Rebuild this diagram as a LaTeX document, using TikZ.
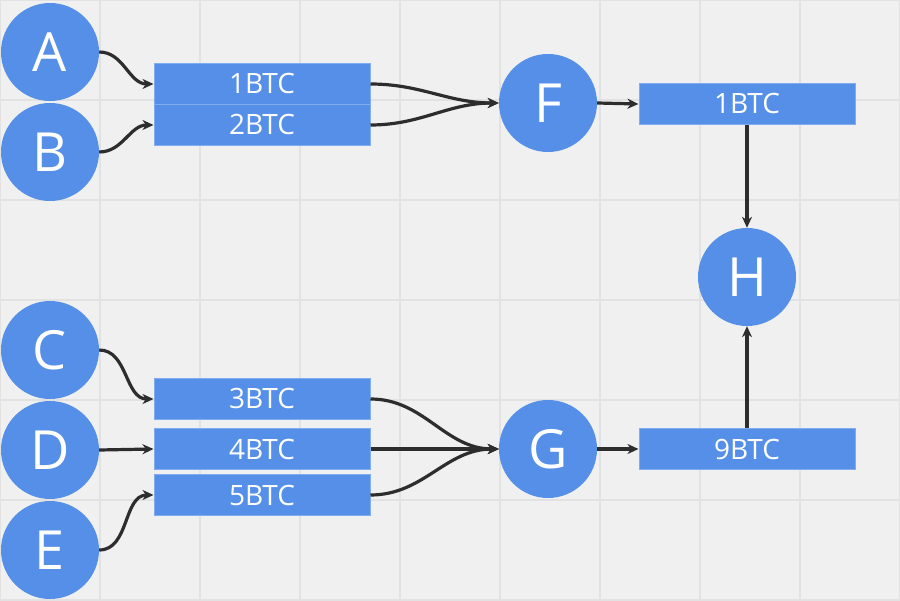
\documentclass[tikz,border=0pt]{standalone}
\usepackage{fontspec}
\setmainfont{Open Sans}
\usepackage{tikz}
\usetikzlibrary{
    arrows.meta,  % For arrow tips
    positioning   % For relative placement
}
\definecolor{coinblue}{RGB}{85,143,232}
\definecolor{coinedge}{RGB}{128,172,240}
\definecolor{paper}{RGB}{240,240,240}
\definecolor{gridgray}{RGB}{226,226,226}
\definecolor{wire}{RGB}{45,45,45}

\begin{document}
\begin{tikzpicture}[
    x=1pt, y=-1pt,
    >={Stealth[length=11pt, width=10pt, inset=3.5pt]}, % Default arrow tip
    party/.style={circle, fill=coinblue, text=white, minimum size=98pt,
        inner sep=0pt, font=\fontsize{54}{54}\selectfont}, % Wallet circles
    coin/.style={rectangle, fill=coinblue, draw=coinedge, line width=1pt, text=white,
        minimum width=216pt, minimum height=41pt, inner sep=0pt,
        font=\fontsize{28}{28}\selectfont}, % Amount boxes
    flow/.style={->, wire, line width=3.2pt}, % Connector style
    gridline/.style={gridgray, line width=1.5pt}
]

    % Background and grid
    \fill[paper] (0,0) rectangle (900,601);
    \useasboundingbox (0,0) rectangle (900,601);
    \foreach \gx in {0,100,...,900} {
        \draw[gridline] (\gx,0) -- (\gx,601);
    }
    \foreach \gy in {0,100,...,600} {
        \draw[gridline] (0,\gy) -- (900,\gy);
    }

    % Senders
    \node[party] (A) at (50,52) {A};
    \node[party] (B) at (50,152) {B};
    \node[party] (C) at (50,350) {C};
    \node[party] (D) at (50,450) {D};
    \node[party] (E) at (50,550) {E};

    % Inputs
    \node[coin] (in1) at (262,84) {1BTC};
    \node[coin] (in2) at (262,125) {2BTC};
    \node[coin] (in3) at (262,399) {3BTC};
    \node[coin] (in4) at (262,449) {4BTC};
    \node[coin] (in5) at (262,495) {5BTC};

    % Transactions
    \node[party] (F) at (548,103) {F};
    \node[party] (G) at (548,449) {G};

    % Outputs
    \node[coin] (out1) at (747,104) {1BTC};
    \node[coin] (out9) at (747,449) {9BTC};

    % Receiver
    \node[party] (H) at (747,277) {H};

    % --- Connectors ---
    \draw[flow] (A.east) to[out=0, in=180] (in1.west);
    \draw[flow] (B.east) to[out=0, in=180] (in2.west);
    \draw[flow] (C.east) to[out=0, in=180] (in3.west);
    \draw[flow] (D.east) -- (in4.west);
    \draw[flow] (E.east) to[out=0, in=180] (in5.west);

    \draw[flow] (in1.east) to[out=0, in=180] (F.west);
    \draw[flow] (in2.east) to[out=0, in=180] (F.west);
    \draw[flow] (in3.east) to[out=0, in=180] (G.west);
    \draw[flow] (in4.east) -- (G.west);
    \draw[flow] (in5.east) to[out=0, in=180] (G.west);

    \draw[flow] (F.east) -- (out1.west);
    \draw[flow] (G.east) -- (out9.west);
    \draw[flow] (out1.south) -- (H.north);
    \draw[flow] (out9.north) -- (H.south);

\end{tikzpicture}
\end{document}
